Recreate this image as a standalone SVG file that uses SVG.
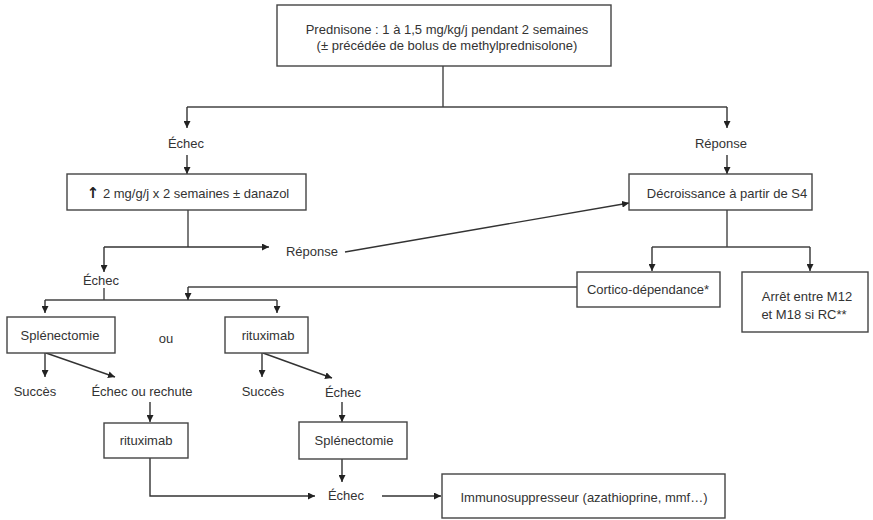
<svg xmlns="http://www.w3.org/2000/svg" width="873" height="520" viewBox="0 0 873 520">
<defs>
<marker id="ah" viewBox="0 0 10 10" refX="10" refY="5" markerWidth="7" markerHeight="7" markerUnits="userSpaceOnUse" orient="auto">
<path d="M0,0 L10,5 L0,10 z" fill="#222"/>
</marker>
<style>
.box{fill:#fff;stroke:#444;stroke-width:1.4}
.t{font-family:"Liberation Sans",Arial,sans-serif;font-size:13px;fill:#333;text-anchor:middle;dominant-baseline:central}
.c{fill:none;stroke:#444;stroke-width:1.4}
.a{fill:none;stroke:#333;stroke-width:1.4;marker-end:url(#ah)}
.up{font-family:"DejaVu Sans",sans-serif;font-weight:bold;font-size:15px;fill:#222}
</style>
</defs>
<rect width="873" height="520" fill="#fff"/>
<g id="connectors">
<path class="c" d="M443,66 V107 M187,107 H727"/>
<path class="a" d="M187,107 V128"/>
<path class="a" d="M727,107 V128"/>
<path class="a" d="M187,155 V174"/>
<path class="a" d="M727,155 V174"/>
<path class="c" d="M188,210 V247"/>
<path class="a" d="M104,247 H269"/>
<path class="a" d="M104,247 V272"/>
<path class="a" d="M345,252 L629,203"/>
<path class="c" d="M104,288 V300 M45,300 H277"/>
<path class="a" d="M45,300 V313"/>
<path class="a" d="M277,300 V313"/>
<path class="c" d="M577,287 H188"/>
<path class="a" d="M188,287 V300"/>
<path class="c" d="M727,210 V247 M652,247 H810"/>
<path class="a" d="M652,247 V271"/>
<path class="a" d="M810,247 V271"/>
<path class="a" d="M45,353 V377"/>
<path class="a" d="M46,353 L115,377"/>
<path class="a" d="M262,353 V377"/>
<path class="a" d="M263,353 L332,378"/>
<path class="a" d="M150,402 V422"/>
<path class="a" d="M342,402 V422"/>
<path class="a" d="M342,459 V482"/>
<path class="a" d="M150,458 V496 H315"/>
<path class="a" d="M382,496 H441"/>
</g>
<g id="n-prednisone">
<rect class="box" x="277" y="5" width="334" height="61"/>
<text class="t" x="447" y="29">Prednisone : 1 à 1,5 mg/kg/j pendant 2 semaines</text>
<text class="t" x="447" y="45">(± précédée de bolus de methylprednisolone)</text>
</g>
<g id="n-echec1"><text class="t" x="186" y="143">Échec</text></g>
<g id="n-reponse1"><text class="t" x="721" y="143">Réponse</text></g>
<g id="n-augment">
<rect class="box" x="67" y="174" width="239" height="36"/>
<text class="t" x="188" y="193"><tspan class="up">↑</tspan> 2 mg/g/j x 2 semaines ± danazol</text>
</g>
<g id="n-decroissance">
<rect class="box" x="629" y="174" width="183" height="36"/>
<text class="t" x="727" y="193">Décroissance à partir de S4</text>
</g>
<g id="n-reponse2"><text class="t" x="312" y="251">Réponse</text></g>
<g id="n-echec2"><text class="t" x="101" y="280">Échec</text></g>
<g id="n-cortico">
<rect class="box" x="577" y="272" width="143" height="35"/>
<text class="t" x="648" y="289">Cortico-dépendance*</text>
</g>
<g id="n-arret">
<rect class="box" x="742" y="272" width="126" height="60"/>
<text class="t" x="807" y="296">Arrêt entre M12</text>
<text class="t" x="804" y="314">et M18 si RC**</text>
</g>
<g id="n-splen1">
<rect class="box" x="7" y="317" width="108" height="36"/>
<text class="t" x="60" y="335">Splénectomie</text>
</g>
<g id="n-ou"><text class="t" x="166" y="338">ou</text></g>
<g id="n-ritux1">
<rect class="box" x="225" y="317" width="83" height="36"/>
<text class="t" x="268" y="335">rituximab</text>
</g>
<g id="n-succes1"><text class="t" x="35" y="391">Succès</text></g>
<g id="n-echecrechute"><text class="t" x="142" y="391">Échec ou rechute</text></g>
<g id="n-succes2"><text class="t" x="263" y="391">Succès</text></g>
<g id="n-echec3"><text class="t" x="343" y="392">Échec</text></g>
<g id="n-ritux2">
<rect class="box" x="104" y="423" width="84" height="35"/>
<text class="t" x="146" y="440">rituximab</text>
</g>
<g id="n-splen2">
<rect class="box" x="299" y="422" width="108" height="37"/>
<text class="t" x="354" y="440">Splénectomie</text>
</g>
<g id="n-echec4"><text class="t" x="346" y="495">Échec</text></g>
<g id="n-immuno">
<rect class="box" x="442" y="474" width="283" height="44"/>
<text class="t" x="584" y="497">Immunosuppresseur (azathioprine, mmf…)</text>
</g>
</svg>
